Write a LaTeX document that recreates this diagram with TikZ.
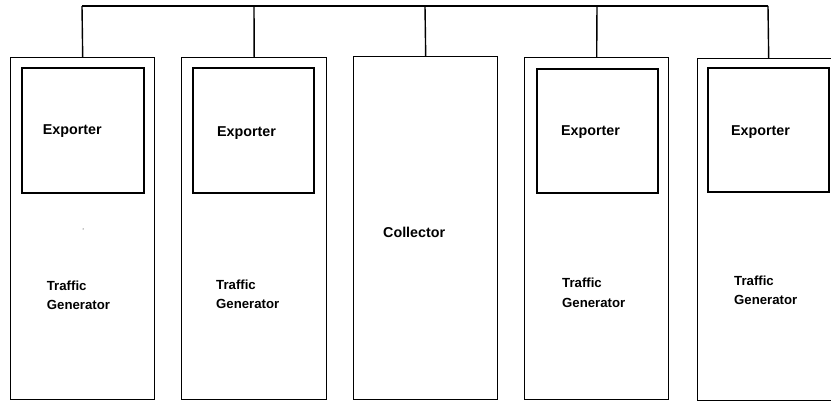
\documentclass[tikz,border=0pt]{standalone}
\usepackage{fontspec}
\setmainfont{Liberation Sans}
\begin{document}
\begin{tikzpicture}[x=1pt,y=-1pt,
  outerbox/.style={draw=black,line width=1.4pt,rectangle,inner sep=0pt,anchor=north west,fill=white},
  innerbox/.style={draw=black,line width=1.8pt,rectangle,inner sep=0pt,anchor=north west},
  bigtxt/.style={font=\fontsize{14.3}{17}\selectfont\bfseries,inner sep=0pt,anchor=base west},
  smalltxt/.style={font=\fontsize{13.2}{19.5}\selectfont\bfseries,inner sep=0pt,anchor=base west,align=left},
  wire/.style={draw=black,line width=1.4pt}]
\useasboundingbox (0,0) rectangle (831,401);
% outer boxes
\node[outerbox,minimum width=144pt,minimum height=342pt] (g1) at (10,57) {};
\node[outerbox,minimum width=145pt,minimum height=342pt] (g2) at (181,57) {};
\node[outerbox,minimum width=144pt,minimum height=343pt] (col) at (353,56) {};
\node[outerbox,minimum width=144pt,minimum height=342pt] (g4) at (524,57) {};
\node[outerbox,minimum width=142pt,minimum height=342pt] (g5) at (697,58) {};
% inner boxes
\node[innerbox,minimum width=122pt,minimum height=125pt] (e1) at (21,67) {};
\node[innerbox,minimum width=121pt,minimum height=125pt] (e2) at (192,67) {};
\node[innerbox,minimum width=121pt,minimum height=124pt] (e4) at (536,68) {};
\node[innerbox,minimum width=121pt,minimum height=124pt] (e5) at (707,67) {};
% texts
\node[bigtxt] (t1) at (42.7,135) {Exporter};
\node[bigtxt] (t2) at (217,136.5) {Exporter};
\node[bigtxt] (t4) at (561,135.5) {Exporter};
\node[bigtxt] (t5) at (731,135.5) {Exporter};
\node[bigtxt] (tc) at (383,237) {Collector};
\node[smalltxt] (tg1) at (46.7,309.5) {Traffic\\Generator};
\node[smalltxt] (tg2) at (216,308.5) {Traffic\\Generator};
\node[smalltxt] (tg4) at (562,307) {Traffic\\Generator};
\node[smalltxt] (tg5) at (734,304.5) {Traffic\\Generator};
\fill (83,229) circle (0.5pt);
% bus
\coordinate (b1) at (82,6);
\coordinate (b2) at (254,6);
\coordinate (b3) at (425,6);
\coordinate (b4) at (597,6);
\coordinate (b5) at (768,6);
\draw[wire] (b1) -- (b5);
\draw[wire] (b1) -- (g1.north);
\draw[wire] (b2) -- (g2.north);
\draw[wire] (b3) -- (col.north);
\draw[wire] (b4) -- (g4.north);
\draw[wire] (b5) -- (g5.north);
\end{tikzpicture}
\end{document}
